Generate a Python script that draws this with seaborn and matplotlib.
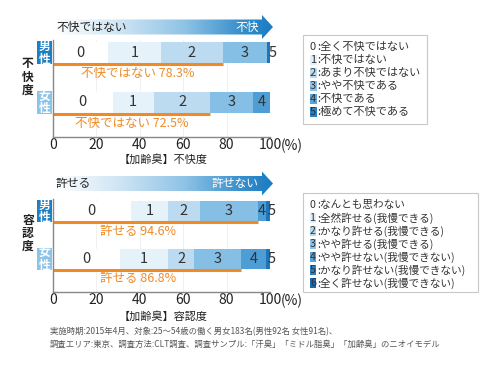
import numpy as np
import pandas as pd
import matplotlib
matplotlib.use("Agg")
from matplotlib import pyplot as plt
from matplotlib.patches import Polygon, Rectangle
from matplotlib.colors import LinearSegmentedColormap
import seaborn as sns

# ---- data (percent per answer level) ----
genders = ['男性', '女性']

fukai_levels = ['0', '1', '2', '3', '4', '5']
fukai_male = [25.5, 24.3, 28.5, 20.2, 0.0, 1.5]
fukai_female = [27.5, 19.0, 26.0, 19.7, 7.8, 0.0]
fukai_ok = [78.3, 72.5]          # 不快ではない (0+1+2)
fukai_legend = ['全く不快ではない', '不快ではない', 'あまり不快ではない',
                'やや不快である', '不快である', '極めて不快である']

yonin_levels = ['0', '1', '2', '3', '4', '5', '6']
yonin_male = [35.8, 17.3, 14.5, 27.0, 3.6, 1.8, 0.0]
yonin_female = [30.9, 22.2, 11.9, 21.8, 11.5, 1.7, 0.0]
yonin_ok = [94.6, 86.8]          # 許せる (0..3)
yonin_legend = ['なんとも思わない', '全然許せる(我慢できる)', 'かなり許せる(我慢できる)',
                'やや許せる(我慢できる)', 'やや許せない(我慢できない)',
                'かなり許せない(我慢できない)', '全く許せない(我慢できない)']

ticks = [0, 20, 40, 60, 80, 100]

bar_colors = ['#ffffff', '#e6f2fa', '#bddbf0', '#86bfe5', '#4f9dd5', '#1d76bc', '#0f5d9c']
key_colors = ['none', '#e3f0f9', '#b9d9ef', '#8cc2e6', '#5aa5d8', '#2a7fc0', '#1a6aae']
orange = '#f08a24'
box_blue = ['#1f7fc3', '#8cc4e8']

sns.set_theme(style='white')
plt.rcParams['font.family'] = ['Noto Sans CJK JP', 'DejaVu Sans']

W, H = 500, 365
fig = plt.figure(figsize=(5, 3.65), dpi=100)


def fx(x):
    return x / W


def fy(y):
    return 1 - y / H


cmap = LinearSegmentedColormap.from_list(
    'arrow', [(0, '#ffffff'), (0.3, '#cfe5f4'), (0.6, '#8ec3e6'), (0.85, '#3a90cc'), (1, '#1a7cc2')])


def header(y_top, left_text, right_text):
    hx = fig.add_axes([fx(53), fy(y_top + 25), fx(220), 25 / H])
    hx.set_xlim(0, 220)
    hx.set_ylim(0, 25)
    hx.axis('off')
    poly = Polygon([(0, 5), (209, 5), (209, 0.5), (220, 12.5), (209, 24.5), (209, 20), (0, 20)],
                   closed=True, facecolor='none', edgecolor='none')
    hx.add_patch(poly)
    im = hx.imshow(np.linspace(0, 1, 256).reshape(1, -1), cmap=cmap,
                   extent=[0, 220, 0, 25], aspect='auto')
    im.set_clip_path(poly)
    hx.text(3, 12.5, left_text, fontsize=8.5, color='#222222', va='center', ha='left')
    hx.text(206, 12.5, right_text, fontsize=8.5, color='white', va='center', ha='right')


def panel(rect, levels, male, female, ok, ok_text, text_x, xlabel, xlabel_y, side_label, side_y):
    ax = fig.add_axes(rect)
    table = pd.DataFrame({'gender': genders * len(levels),
                          'level': np.repeat(levels, 2),
                          'value': [v for pair in zip(male, female) for v in pair]})
    table['cum'] = table.groupby('gender')['value'].cumsum()
    # draw the widest cumulative first so each level sits on top of the next
    for k in range(len(levels) - 1, -1, -1):
        sub = table[table['level'] == levels[k]]
        sns.barplot(data=sub, x='cum', y='gender', order=genders, orient='h',
                    color=bar_colors[k], saturation=1, width=0.42, linewidth=0,
                    errorbar=None, ax=ax)
    # segment numbers
    for i, g in enumerate(genders):
        sub = table[table['gender'] == g]
        for lv, val, cum in zip(sub['level'], sub['value'], sub['cum']):
            if val <= 0:
                continue
            if val < 2.5:
                ax.text(cum - val + 0.8, i, lv, ha='left', va='center', fontsize=10.5, color='#333333')
            else:
                ax.text(cum - val / 2, i, lv, ha='center', va='center', fontsize=10.5, color='#333333')
        ax.hlines(i + 0.23, 0, ok[i], color=orange, lw=2.2)
        tx = ok[i] / 2 if text_x is None else text_x
        ax.text(tx, i + 0.42, f'{ok_text} {ok[i]}%', ha='center', va='center',
                fontsize=9, color=orange)
        # gender box
        ax.add_patch(Rectangle((-0.074, i - 0.23), 0.069, 0.46, transform=ax.get_yaxis_transform(),
                               facecolor=box_blue[i], edgecolor='none', clip_on=False))
        ax.text(-0.0395, i, '\n'.join(g), transform=ax.get_yaxis_transform(), ha='center', va='center',
                fontsize=8.5, color='white', fontweight='bold', linespacing=0.95)
    ax.set_xlim(0, 100)
    ax.set_ylim(1.7, -0.26)
    ax.set_xticks(ticks)
    ax.set_xticklabels([str(t) for t in ticks])
    ax.set_yticks([])
    ax.set_xlabel('')
    ax.set_ylabel('')
    ax.tick_params(axis='x', length=0, pad=1, labelsize=10, labelcolor='#222222')
    ax.annotate('(%)', xy=(100, 0), xycoords=('data', 'axes fraction'), xytext=(8, -1),
                textcoords='offset points', ha='left', va='top', fontsize=10, color='#222222')
    ax.grid(axis='x', color='#eeeeee', lw=0.6)
    ax.set_axisbelow(True)
    for s in ['top', 'right']:
        ax.spines[s].set_visible(False)
    for s in ['left', 'bottom']:
        ax.spines[s].set_color('#888888')
        ax.spines[s].set_linewidth(1)
    fig.text(fx(163), fy(xlabel_y), xlabel, ha='center', va='center', fontsize=8, color='#222222')
    fig.text(fx(28), fy(side_y), '\n'.join(side_label), ha='center', va='center', fontsize=8.5,
             fontweight='bold', color='#222222', linespacing=1.0)
    return ax


def key(x0, y0, x1, y1, levels, labels, size):
    fig.add_artist(Rectangle((fx(x0), fy(y1)), fx(x1 - x0), (y1 - y0) / H, transform=fig.transFigure,
                             facecolor='white', edgecolor='#c8c8c8', lw=0.8))
    for k, (lv, lab) in enumerate(zip(levels, labels)):
        y = fy(y0 + 12 + 13 * k)
        bb = None if key_colors[k] == 'none' else dict(facecolor=key_colors[k], edgecolor='none', pad=0.3)
        fig.text(fx(310), y, lv, ha='left', va='center', fontsize=size, color='#333333', bbox=bb)
        fig.text(fx(317.5), y, ':' + lab, ha='left', va='center', fontsize=size, color='#333333')


header(14.5, '不快ではない', '不快')
panel([fx(53), fy(137), fx(217), 97 / H], fukai_levels, fukai_male, fukai_female,
      fukai_ok, '不快ではない', None, '【加齢臭】不快度', 159, '不快度', 77)
key(303, 35, 427, 124, fukai_levels, fukai_legend, 8)

header(171, '許せる', '許せない')
panel([fx(53), fy(292), fx(217), 93 / H], yonin_levels, yonin_male, yonin_female,
      yonin_ok, '許せる', 39, '【加齢臭】容認度', 316, '容認度', 233)
key(303, 193, 478, 292, yonin_levels, yonin_legend, 7.7)

fig.text(fx(50), fy(332), '実施時期:2015年4月、対象:25～54歳の働く男女183名(男性92名 女性91名)、',
         fontsize=6, color='#555555', va='center', ha='left')
fig.text(fx(50), fy(344), '調査エリア:東京、調査方法:CLT調査、調査サンプル:「汗臭」「ミドル脂臭」「加齢臭」のニオイモデル',
         fontsize=6, color='#555555', va='center', ha='left')

fig.savefig('out.png', dpi=100)
